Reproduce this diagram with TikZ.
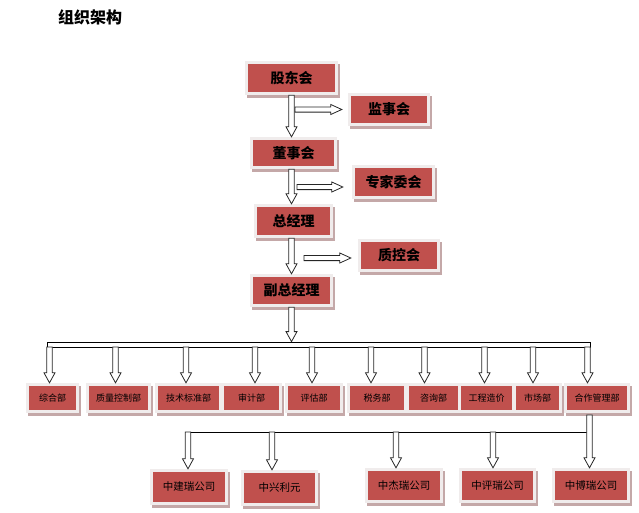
\documentclass[tikz,border=0pt]{standalone}
\usepackage{fontspec}
\newfontfamily\cjk{Noto Sans CJK SC}
\usetikzlibrary{calc}
\definecolor{boxred}{RGB}{192,80,77}
\definecolor{framec}{RGB}{240,236,236}
\definecolor{shadec}{RGB}{196,168,168}

\begin{document}
\begin{tikzpicture}[x=1pt, y=-1pt,
  unit/.style={fill=boxred, text=black, inner sep=0pt,
    preaction={draw=shadec, line width=6pt, transform canvas={xshift=2pt, yshift=-2.5pt}},
    preaction={draw=framec, line width=6pt}},
  topbox/.style={unit, font=\cjk\bfseries\fontsize{14}{14}\selectfont},
  deptbox/.style={unit, minimum height=24, font=\cjk\fontsize{9}{9}\selectfont},
  firmbox/.style={unit, font=\cjk\fontsize{10.5}{10.5}\selectfont},
  vblk/.style={draw=black!85, fill=white, line width=0.8pt, to path={
    let \p1=(\tikztostart), \p2=(\tikztotarget) in
    (\x1-2.8pt,\y1) -- (\x1-2.8pt,\y2+10pt) -- (\x1-5.5pt,\y2+10pt) -- (\x1,\y2)
    -- (\x1+5.5pt,\y2+10pt) -- (\x1+2.8pt,\y2+10pt) -- (\x1+2.8pt,\y1) -- cycle}},
  hblk/.style={draw=black!85, fill=white, line width=0.8pt, to path={
    let \p1=(\tikztostart), \p2=(\tikztotarget) in
    (\x1,\y1-2.6pt) -- (\x2-11pt,\y1-2.6pt) -- (\x2-11pt,\y1-5pt) -- (\x2,\y1)
    -- (\x2-11pt,\y1+5pt) -- (\x2-11pt,\y1+2.6pt) -- (\x1,\y1+2.6pt) -- cycle}}]

\useasboundingbox (0,0) rectangle (639,512);

\node[font=\cjk\bfseries\fontsize{16}{16}\selectfont] (title) at (90,17) {组织架构};

\node[topbox, minimum width=87, minimum height=28] (gd) at (291.5,78) {股东会};
\node[topbox, minimum width=76, minimum height=27] (js) at (389,109.5) {监事会};
\node[topbox, minimum width=81, minimum height=26] (ds) at (293.5,153) {董事会};
\node[topbox, minimum width=77, minimum height=28] (zj) at (393.5,182) {专家委会};
\node[topbox, minimum width=73, minimum height=28] (zjl) at (293.5,221) {总经理};
\node[topbox, minimum width=76, minimum height=27] (zk) at (399,255.5) {质控会};
\node[topbox, minimum width=77, minimum height=27] (fz) at (291.5,290.5) {副总经理};

\draw[vblk] ([yshift=-3pt]gd.south) to ([yshift=3pt]ds.north);
\draw[vblk] ([yshift=-3pt]ds.south -| gd) to ([yshift=3pt]zjl.north);
\draw[vblk] ([yshift=-3pt]zjl.south -| gd) to ([yshift=3pt]fz.north);

\coordinate (t1) at (295,109.5);
\coordinate (t2) at (297,187);
\coordinate (t3) at (304,258);
\draw[hblk] (t1) to ([xshift=-9pt]js.west);
\draw[hblk] (t2) to ([xshift=-12pt]zj.west);
\draw[hblk] (t3) to ([xshift=-10pt]zk.west);

\node[draw=black, fill=white, line width=0.8pt, minimum width=543, minimum height=5, inner sep=0pt] (bar) at (318.5,344.5) {};
\draw[vblk] ([yshift=-3pt]fz.south) to (bar.north);

\node[deptbox, minimum width=47] (zh) at (52.5,398) {综合部};
\node[deptbox, minimum width=59] (zl) at (118.5,398) {质量控制部};
\node[deptbox, minimum width=61] (bz) at (188.5,398) {技术标准部};
\node[deptbox, minimum width=55] (sj) at (251.5,398) {审计部};
\node[deptbox, minimum width=52] (pg) at (314,398) {评估部};
\node[deptbox, minimum width=54] (sw) at (377,398) {税务部};
\node[deptbox, minimum width=49] (zx) at (433.5,398) {咨询部};
\node[deptbox, minimum width=51] (gc) at (486.5,398) {工程造价};
\node[deptbox, minimum width=43] (sc) at (537.5,398) {市场部};
\node[deptbox, minimum width=60] (hz) at (597,398) {合作管理部};

\coordinate (p1) at (49.5,347);
\coordinate (p2) at (115.5,347);
\coordinate (p3) at (186,347);
\coordinate (p4) at (255,347);
\coordinate (p5) at (312,347);
\coordinate (p6) at (371,347);
\coordinate (p7) at (424.5,347);
\coordinate (p8) at (484.5,347);
\coordinate (p9) at (533,347);
\coordinate (p10) at (587.5,347);

\draw[vblk] (p1) to ([yshift=3pt]zh.north);
\draw[vblk] (p2) to ([yshift=3pt]zl.north);
\draw[vblk] (p3) to ([yshift=3pt]bz.north);
\draw[vblk] (p4) to ([yshift=3pt]sj.north);
\draw[vblk] (p5) to ([yshift=3pt]pg.north);
\draw[vblk] (p6) to ([yshift=3pt]sw.north);
\draw[vblk] (p7) to ([yshift=3pt]zx.north);
\draw[vblk] (p8) to ([yshift=3pt]gc.north);
\draw[vblk] (p9) to ([yshift=3pt]sc.north);
\draw[vblk] (p10) to ([yshift=3pt]hz.north);

\node[firmbox, minimum width=72, minimum height=30] (jr) at (189,487) {中建瑞公司};
\node[firmbox, minimum width=71, minimum height=30] (xl) at (279.5,488) {中兴利元};
\node[firmbox, minimum width=72, minimum height=29] (jie) at (404,485.5) {中杰瑞公司};
\node[firmbox, minimum width=71, minimum height=29] (pr) at (497.5,485.5) {中评瑞公司};
\node[firmbox, minimum width=72, minimum height=29] (br) at (591,485.5) {中博瑞公司};

\coordinate (q0) at (589.5,415);
\coordinate (c1) at (188,432);
\coordinate (c2) at (272,432);
\coordinate (c3) at (396,432);
\coordinate (c4) at (493,432);
\coordinate (c5) at (587,432);

\draw[line width=0.8pt] (c1) -- (c5);
\draw[vblk] (q0) to ([yshift=3pt]br.north);
\draw[vblk] (c1) to ([yshift=3pt]jr.north);
\draw[vblk] (c2) to ([yshift=3pt]xl.north);
\draw[vblk] (c3) to ([yshift=3pt]jie.north);
\draw[vblk] (c4) to ([yshift=3pt]pr.north);

\end{tikzpicture}
\end{document}
